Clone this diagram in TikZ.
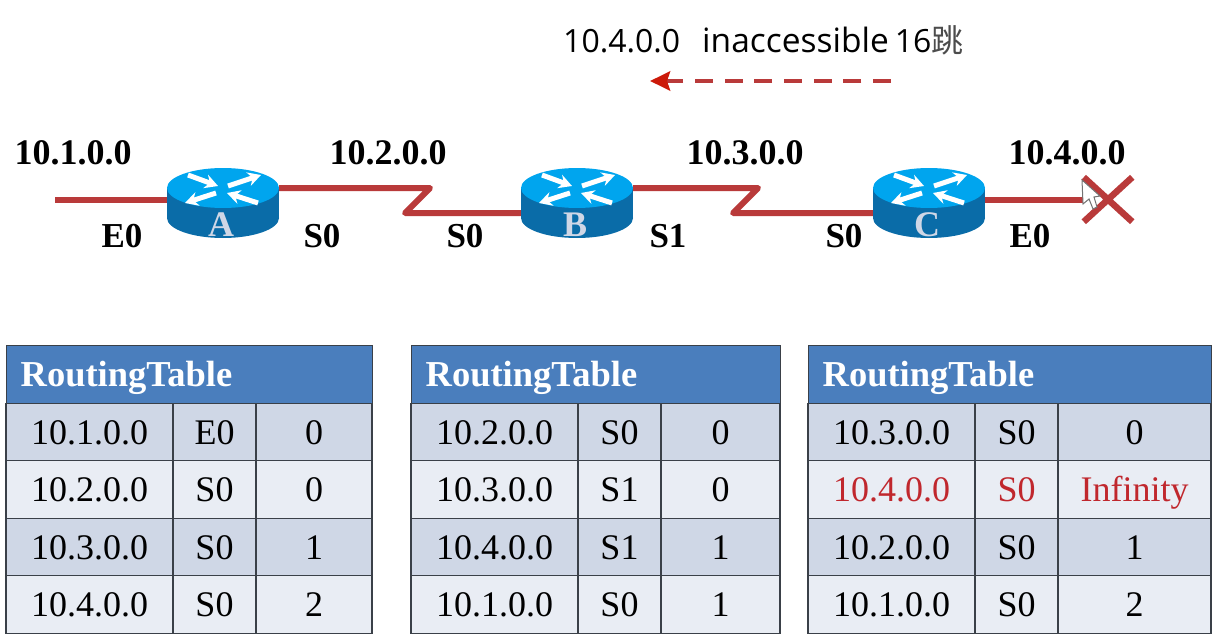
\documentclass[tikz,border=0pt]{standalone}
\usepackage{fontspec}
\setmainfont{Liberation Serif}
\newfontfamily\notefont{Open Sans}
\newfontfamily\cjkfont{Noto Sans CJK SC}
\usetikzlibrary{arrows.meta,shapes.misc}

\definecolor{linkred}{HTML}{B93A3A}
\definecolor{tiered}{HTML}{CC1A0A}
\definecolor{rowdark}{HTML}{CFD7E6}
\definecolor{rowlight}{HTML}{E9EDF4}
\definecolor{headblue}{HTML}{4A7EBD}
\definecolor{rtop}{HTML}{00A5EE}
\definecolor{rside}{HTML}{0A6CA8}
\definecolor{hopred}{HTML}{C0272D}
\definecolor{gridgray}{HTML}{3A4048}

\tikzset{
   net/.style ={font=\fontsize{36}{36}\selectfont\bfseries, inner sep = 0pt},
   port/.style ={font=\fontsize{35}{35}\selectfont\bfseries, inner sep = 0pt},
   link/.style ={draw=linkred, line width=6pt, line join=round},
   routerbox/.style ={inner sep = 0pt, minimum width=112pt, minimum height=70pt},
   routerarrow/.style ={draw=white, line width=5pt, -{Stealth[length=13pt,width=14pt]}},
   cell/.style ={draw=gridgray, line width=1.3pt, inner sep = 0pt, minimum height=57.5pt,
      text height=24pt, text depth=0pt, font=\fontsize{36}{36}\selectfont},
   head/.style ={draw=gridgray, line width=1.3pt, fill=headblue, text=white, inner sep = 0pt,
      minimum height=58pt, anchor=north west, align=left, text height=26pt, text depth=2pt,
      font=\fontsize{36.5}{36.5}\selectfont\bfseries}
}

% router: name, x, letter
\newcommand{\router}[3]{
   \node[routerbox] (#1) at (#2,203) {};
   \begin{scope}[shift={(#1.center)}]
      \fill[rside] (0,15) ellipse [x radius=56pt, y radius=20pt];
      \fill[rside] (-56,-15) rectangle (56,15);
      \fill[rtop] (0,-15) ellipse [x radius=56pt, y radius=20pt];
      \draw[routerarrow] (-35,-28) -- (-5,-17);
      \draw[routerarrow] (5,-17) -- (38,-28);
      \draw[routerarrow] (-7,-10) -- (-38,0);
      \draw[routerarrow] (35,0) -- (4,-10);
   \end{scope}
   \node[inner sep = 0pt, text=rowdark, font=\fontsize{36}{36}\selectfont\bfseries] (#1label) at (#2-2,225) {#3};
}

% table: name, left x, width of last column, rows
\newcommand{\routingtable}[4]{
   \node[head, text width=#3+250-28pt, minimum width=#3+250pt] (#1head) at (#2,345) {RoutingTable};
   \foreach \i/\addr/\ifc/\hop/\tone/\ink in {#4} {
      \node[cell, fill=\tone, text=\ink, minimum width=167pt] (#1addr\i) at (#2+83.5,374.5+57.5*\i) {\addr};
      \node[cell, fill=\tone, text=\ink, minimum width=83pt] (#1ifc\i) at (#2+208.5,374.5+57.5*\i) {\ifc};
      \node[cell, fill=\tone, text=\ink, minimum width=#3pt] (#1hop\i) at (#2+250+#3/2,374.5+57.5*\i) {\hop};
   }
}

\begin{document}
\begin{tikzpicture}[x=1pt,y=-1pt]
   \useasboundingbox (0,0) rectangle (1212,637);

   \node[inner sep = 0pt, anchor=west, font=\fontsize{32}{32}\selectfont\notefont] (note) at (563,40)
      {10.4.0.0\hspace{22pt}{\fontsize{33.5}{33.5}\selectfont inaccessible}\hspace{6pt}16{\cjkfont\color{black!70}跳}};
   \coordinate (notestart) at (891,81);
   \coordinate (noteend) at (650,81);
   \draw[draw=linkred, line width=4.5pt, dash pattern=on 18pt off 11.7pt,
      -{Stealth[length=20pt,width=19pt,inset=3pt,color=tiered]}] (notestart) to (noteend);

   \router{A}{223}{A}
   \router{B}{577}{B}
   \router{C}{929}{C}

   \node[draw=linkred, cross out, line width=6.5pt, inner sep = 0pt,
      minimum width=42pt, minimum height=38pt] (fault) at (1108,199.5) {};

   \coordinate (lan) at (55,200);
   \draw[link] (lan) to (lan -| A.west);
   \draw[link] ([yshift=15pt]A.east) -- (430,188) -- (405,213) -- ([yshift=-10pt]B.west);
   \draw[link] ([yshift=15pt]B.east) -- (758,188) -- (733,213) -- ([yshift=-10pt]C.west);
   \draw[link] (C.east |- fault.west) to (fault.west);

   % mouse pointer on the broken end
   \filldraw[fill=white, draw=black!55, line width=1pt] (1082,180) -- (1083,204) -- (1089,199)
      -- (1093,209) -- (1097,207) -- (1094,197) -- (1100,196) -- cycle;

   \node[net] (n1) at (73,153) {10.1.0.0};
   \node[net] (n2) at (388,153) {10.2.0.0};
   \node[net] (n3) at (745,153) {10.3.0.0};
   \node[net] (n4) at (1067,153) {10.4.0.0};

   \node[port] (pa) at (122,236) {E0};
   \node[port] (pb) at (322,236) {S0};
   \node[port] (pc) at (465,236) {S0};
   \node[port] (pd) at (668,236) {S1};
   \node[port] (pe) at (844,236) {S0};
   \node[port] (pf) at (1030,236) {E0};

   \routingtable{ta}{6}{116}{1/10.1.0.0/E0/0/rowdark/black, 2/10.2.0.0/S0/0/rowlight/black,
      3/10.3.0.0/S0/1/rowdark/black, 4/10.4.0.0/S0/2/rowlight/black}
   \routingtable{tb}{411}{119}{1/10.2.0.0/S0/0/rowdark/black, 2/10.3.0.0/S1/0/rowlight/black,
      3/10.4.0.0/S1/1/rowdark/black, 4/10.1.0.0/S0/1/rowlight/black}
   \routingtable{tc}{808}{153}{1/10.3.0.0/S0/0/rowdark/black, 2/10.4.0.0/S0/Infinity/rowlight/hopred,
      3/10.2.0.0/S0/1/rowdark/black, 4/10.1.0.0/S0/2/rowlight/black}
\end{tikzpicture}
\end{document}
